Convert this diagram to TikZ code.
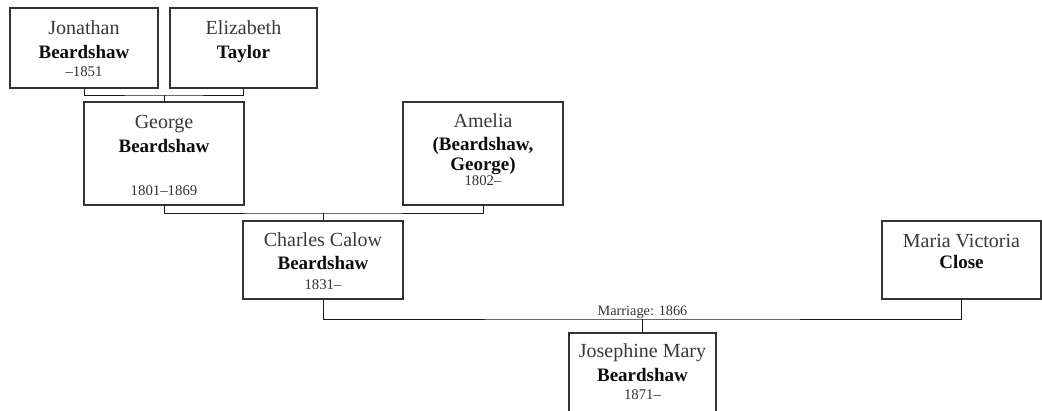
\documentclass[tikz,border=0pt]{standalone}
\usepackage{fontspec}
\setmainfont{Liberation Serif}
\usetikzlibrary{calc}
\tikzset{
  person/.style={draw=black!80, line width=1.2pt, rectangle, inner sep=0pt, outer sep=0pt, fill=white},
  link/.style={draw=black!90, line width=1pt},
  nm/.style={anchor=base, inner sep=0pt, text=black!78, font=\fontsize{20}{22}\selectfont},
  bd/.style={anchor=base, inner sep=0pt, text=black!95, font=\fontsize{19}{22}\selectfont\bfseries},
  dt/.style={anchor=base, inner sep=0pt, text=black!80, font=\fontsize{14.8}{16}\selectfont},
}
\begin{document}
\begin{tikzpicture}[x=1pt, y=-1pt]
\clip (0,0) rectangle (1042,410);
\useasboundingbox (0,0) rectangle (1042,410);
% boxes
\node[person, minimum width=148pt, minimum height=80pt] (j) at (84,48) {};
\node[person, minimum width=147pt, minimum height=80pt] (e) at (243.5,48) {};
\node[person, minimum width=160pt, minimum height=103pt] (g) at (164,153.5) {};
\node[person, minimum width=160pt, minimum height=103pt] (a) at (483,153.5) {};
\node[person, minimum width=160pt, minimum height=78pt] (c) at (323,260) {};
\node[person, minimum width=159pt, minimum height=78pt] (m) at (961.5,260) {};
\node[person, minimum width=147pt, minimum height=110pt] (jo) at (642.5,388) {};
% connectors
\coordinate (u1) at (164,95);
\coordinate (u2) at (323,213);
\coordinate (u3) at (642.5,319);
\draw[link] (j.south) |- (u1) -| (e.south);
\draw[link] (u1) -- (g.north);
\draw[link] (g.south) |- (u2) -| (a.south);
\draw[link] (u2) -- (c.north);
\draw[link] (c.south) |- (u3) -| (m.south);
\draw[link] (u3) -- (jo.north);
\node[dt, font=\fontsize{14.3}{16}\selectfont] (mlab) at ($(u3)+(0,-4)$) {Marriage: 1866};
% texts
\node[nm] (j1) at ($(j.north)+(0,26)$) {Jonathan};
\node[bd] (j2) at ($(j.north)+(0,50)$) {Beardshaw};
\node[dt] (j3) at ($(j.north)+(0,68)$) {–1851};
\node[nm] (e1) at ($(e.north)+(0,26)$) {Elizabeth};
\node[bd] (e2) at ($(e.north)+(0,50)$) {Taylor};
\node[nm] (g1) at ($(g.north)+(0,26)$) {George};
\node[bd] (g2) at ($(g.north)+(0,50)$) {Beardshaw};
\node[dt] (g3) at ($(g.north)+(0,93)$) {1801–1869};
\node[nm] (a1) at ($(a.north)+(0,25)$) {Amelia};
\node[bd] (a2) at ($(a.north)+(0,48)$) {(Beardshaw,};
\node[bd] (a3) at ($(a.north)+(0,68)$) {George)};
\node[dt] (a4) at ($(a.north)+(0,83)$) {1802–};
\node[nm] (c1) at ($(c.north)+(0,25)$) {Charles Calow};
\node[bd] (c2) at ($(c.north)+(0,48)$) {Beardshaw};
\node[dt] (c3) at ($(c.north)+(0,68)$) {1831–};
\node[nm] (m1) at ($(m.north)+(0,26)$) {Maria Victoria};
\node[bd] (m2) at ($(m.north)+(0,47)$) {Close};
\node[nm] (jo1) at ($(jo.north)+(0,24)$) {Josephine Mary};
\node[bd] (jo2) at ($(jo.north)+(0,48)$) {Beardshaw};
\node[dt] (jo3) at ($(jo.north)+(0,66)$) {1871–};
\end{tikzpicture}
\end{document}
